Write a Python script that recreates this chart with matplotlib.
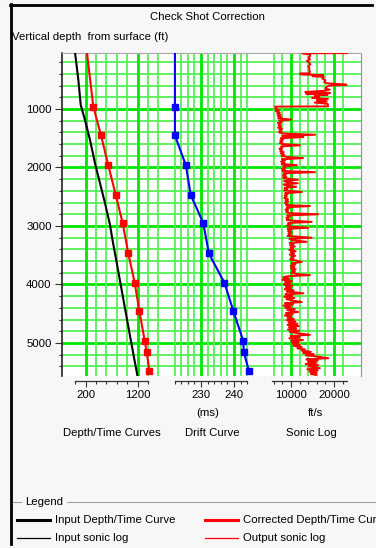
import numpy as np
import matplotlib.pyplot as plt
from matplotlib.lines import Line2D
from matplotlib.patches import Rectangle
from matplotlib.ticker import FixedLocator, MultipleLocator, NullFormatter

plt.rcParams['font.family'] = ['Liberation Sans', 'DejaVu Sans']
plt.rcParams['font.size'] = 8.2

W, H = 376, 548
def fx(px):
    return px / W
def fy(py):
    return 1 - py / H

# check shot depths (ft) and the corrected depth/time + drift at each shot
shot_depth = [960, 1450, 1960, 2470, 2950, 3470, 3970, 4450, 4960, 5160, 5470]
corrected_time = [350, 498, 638, 781, 915, 1023, 1146, 1235, 1338, 1377, 1427]
drift_ms = [222.1, 222.1, 225.4, 226.9, 230.7, 232.4, 237.1, 239.8, 242.8, 243.0, 244.5]
top_depth = 45
top_corrected = 229
top_drift = 222.1

# input depth/time curve
input_depth = [45, 500, 930, 1190, 1530, 1930, 2270, 2610, 2980, 3240, 3700, 4270, 4900, 5550]
input_time = [0, 62, 108, 190, 287, 383, 479, 575, 671, 719, 815, 931, 1060, 1196]

# sonic log (ft/s)
sonic_depth = [45, 47, 60, 90, 120, 150, 180, 210, 240, 270, 300, 330, 360, 390, 392, 410, 420, 440,
               450, 480, 510, 540, 560, 575, 585, 600, 620, 650, 670, 690, 710, 725, 740, 755, 770,
               790, 810, 830, 850, 870, 890, 910, 930, 955, 960,
               980, 1000, 1020, 1040, 1060, 1080, 1100, 1120, 1140, 1160, 1180, 1200, 1220, 1240,
               1260, 1280, 1300, 1320, 1340, 1360, 1380, 1400, 1420, 1440, 1460, 1480, 1500, 1520,
               1540, 1560, 1580, 1600, 1620, 1640, 1660, 1680, 1700, 1720, 1740, 1760, 1780, 1800,
               1820, 1840, 1860, 1880, 1900, 1920, 1940, 1960, 1980, 2000, 2020, 2040, 2060, 2080,
               2100, 2120, 2140, 2160, 2180, 2210, 2230, 2250, 2270, 2290, 2310, 2330, 2350, 2370,
               2390, 2420, 2440, 2460, 2480, 2500, 2520, 2540, 2560, 2580, 2600, 2620, 2640, 2660,
               2680, 2700, 2720, 2740, 2760, 2780, 2800, 2820, 2840, 2860, 2880, 2900, 2930, 2950,
               2970, 2990, 3010, 3030, 3050, 3070, 3090, 3110, 3130, 3150, 3170, 3200, 3220, 3240,
               3270, 3290, 3310, 3330, 3350, 3370, 3390, 3410, 3430, 3450, 3470, 3490, 3510, 3530,
               3550, 3570, 3590, 3615, 3640, 3660, 3680, 3700, 3720, 3740, 3760, 3780, 3800, 3820,
               3840, 3860, 3880, 3900, 3920, 3940, 3960, 3980, 4000, 4020, 4040, 4060, 4080, 4100,
               4120, 4150, 4170, 4190, 4210, 4230, 4250, 4270, 4300, 4320, 4340, 4360, 4380, 4400,
               4420, 4440, 4470, 4490, 4510, 4530, 4550, 4570, 4590, 4610, 4630, 4650, 4670, 4690,
               4710, 4730, 4750, 4770, 4790, 4810, 4830, 4860, 4880, 4900, 4920, 4950, 4970, 4990,
               5010, 5030, 5050, 5070, 5090, 5110, 5130, 5150, 5170, 5190, 5210, 5230, 5260, 5280,
               5300, 5320, 5340, 5360, 5380, 5400, 5430, 5450, 5470, 5490, 5510, 5530, 5545]
sonic_vel = [23000, 12600, 14300, 14500, 14100, 14400, 13700, 14300, 14500, 14000, 14300, 14200, 14400,
             14300, 12100, 12300, 17500, 15000, 17600, 17300, 18000, 17700, 18400, 21400, 22900,
             19000, 18300, 18000, 19000, 17500, 13300, 19100, 13500, 18500, 15500, 16500, 14900,
             18600, 16000, 18300, 15500, 18500, 18600, 18600, 6300,
             6600, 6300, 7200, 6500, 7400, 6800, 7600, 6900, 7800, 7000, 10100, 7300, 7900, 6900,
             7600, 7100, 7700, 7000, 7900, 7300, 7800, 7200, 8400, 15600, 8000, 12900, 7600, 8200,
             7500, 8000, 7400, 8100, 12100, 7700, 8000, 7300, 7900, 7500, 8300, 7600, 8400, 7800,
             9000, 12800, 7900, 8600, 7700, 8500, 7800, 11300, 8200, 8700, 7900, 8600, 8000, 15600,
             8300, 8800, 8100, 8900, 8200, 11600, 8400, 9000, 11600, 8300, 8900, 11200, 8500, 9100,
             8400, 12500, 8600, 9200, 8500, 9000, 8400, 9300, 8700, 9400, 8600, 9200, 8800, 14400,
             9000, 9500, 8700, 9300, 8900, 9600, 16300, 9100, 9700, 8900, 9500, 9000, 14800, 9300,
             9800, 9100, 9600, 14000, 9200, 9900, 9300, 10100, 9400, 9900, 9200, 14800, 9600, 10300,
             13600, 9700, 10600, 9800, 10900, 9900, 10500, 9600, 11100, 10000, 10700, 9700, 11000, 10100,
             10600, 9800, 11200, 12500, 10200, 11000, 9900, 10800, 10000, 11100, 10300, 10900, 10100, 11300,
             14400, 9000, 8200, 9600, 8000, 10200, 8600, 9800, 8300, 10400, 8800, 9900, 8500, 10600,
             9000, 12900, 8700, 10300, 8400, 10800, 8900, 10100, 12500, 8600, 10500, 8200, 9800, 8700,
             10900, 9100, 11700, 8800, 10400, 8500, 10000, 9200, 10700, 9000, 11000, 9400, 11500, 9200,
             11800, 9500, 11200, 9300, 11900, 9700, 11400, 14400, 9900, 12000, 9600, 12800, 10100, 11700,
             10300, 12100, 10600, 12500, 11500, 13200, 12500, 14600, 12800, 15300, 13400, 16000, 18700, 13600,
             16200, 14000, 15800, 13400, 16300, 14100, 16700, 13800, 16200, 14300, 15900, 14600, 15800]

# per-track ticks and grid values
dt_ticks = [0, 200, 400, 600, 800, 1000, 1200, 1400]
dt_labels = [200, 1200]
dt_grid = [200, 400, 600, 800, 1000, 1200, 1400, 1600]
drift_ticks = [222, 224, 226, 228, 230, 232, 234, 236, 238, 240, 242, 244]
drift_labels = [230, 240]
sonic_ticks = [6000, 8000, 10000, 12000, 14000, 16000, 18000, 20000, 22000]
sonic_labels = [10000, 20000]
depth_minor = list(range(200, 5600, 200))
depth_major = [1000, 2000, 3000, 4000, 5000]

fig = plt.figure(figsize=(W / 100, H / 100), dpi=100, facecolor='#f0f0f0')

# window frame
fig.add_artist(Rectangle((0, 0), fx(10), 1, transform=fig.transFigure, color='#e3e3e3', zorder=0))
fig.add_artist(Rectangle((0, fy(4)), 1, 1 - fy(4), transform=fig.transFigure, color='#f6f6f6', zorder=0))
fig.add_artist(Rectangle((0, 0), 1, 1 - fy(544), transform=fig.transFigure, color='#f7f7f7', zorder=0))
fig.add_artist(Line2D([fx(11), fx(11)], [fy(4), fy(544)], color='black', lw=2, transform=fig.transFigure))
fig.add_artist(Line2D([fx(10), fx(372)], [fy(5), fy(5)], color='black', lw=2, transform=fig.transFigure))

tracks = [(62, 167, (-252, 1767)), (167, 262, (219.7, 248.5)), (262, 361, (3256, 26279))]
ax_list = []
for l, r, xl in tracks:
    ax = fig.add_axes([fx(l), fy(376), (r - l) / W, (376 - 53) / H])
    ax.set_xlim(*xl)
    ax.set_ylim(5564, 43)
    ax.set_facecolor('white')
    for y in depth_minor:
        if y in depth_major:
            ax.axhline(y, color='#00e600', lw=2.0, zorder=1)
        else:
            ax.axhline(y, color='#55f055', lw=1.3, zorder=1)
    for s in ['left', 'right', 'bottom', 'top']:
        ax.spines[s].set_visible(False)
    ax.spines['top'].set_visible(True)
    ax.spines['top'].set_color('#a8a8a8')
    ax.spines['bottom'].set_visible(True)
    ax.spines['bottom'].set_position(('outward', 3.6))
    ax.spines['bottom'].set_color('#333333')
    ax.spines['bottom'].set_linewidth(0.9)
    ax.tick_params(axis='x', which='major', length=4.3, width=0.8, color='#333333', pad=2.5, labelsize=8.2)
    ax.tick_params(axis='x', which='minor', length=2, width=0.8, color='#333333')
    ax.tick_params(axis='y', left=False, labelleft=False)
    ax_list.append(ax)

ax1, ax2, ax3 = ax_list

def set_x_axis(ax, ticks, labels, grid, lo, hi):
    ax.spines['bottom'].set_bounds(lo, hi)
    ax.xaxis.set_major_locator(FixedLocator(labels))
    ax.xaxis.set_minor_locator(FixedLocator([t for t in ticks if t not in labels]))
    ax.xaxis.set_minor_formatter(NullFormatter())
    ax.set_xticklabels([str(v) for v in labels])
    for g in grid:
        if g in labels:
            ax.axvline(g, color='#00e600', lw=2.0, zorder=1)
        else:
            ax.axvline(g, color='#55f055', lw=1.3, zorder=1)

set_x_axis(ax1, dt_ticks, dt_labels, dt_grid, 0, 1400)
set_x_axis(ax2, drift_ticks, drift_labels, drift_ticks, 222, 244)
set_x_axis(ax3, sonic_ticks, sonic_labels, sonic_ticks, 5600, 23000)

# depth axis on the first track
ax1.spines['left'].set_visible(True)
ax1.spines['left'].set_color('#222222')
ax1.spines['left'].set_linewidth(1.2)
ax1.yaxis.set_major_locator(FixedLocator(depth_major))
ax1.yaxis.set_minor_locator(FixedLocator([d for d in depth_minor if d not in depth_major]))
ax1.tick_params(axis='y', which='major', left=True, labelleft=True, length=5, width=0.8,
                color='#333333', pad=2.5, labelsize=8.2)
ax1.tick_params(axis='y', which='minor', left=True, length=2.5, width=0.8, color='#333333')
ax3.spines['right'].set_visible(True)
ax3.spines['right'].set_color('#909090')

# curves
ax1.plot(input_time, input_depth, color='black', lw=1.5, zorder=3)
ax1.plot([top_corrected] + corrected_time, [top_depth] + shot_depth, color='red', lw=1.5, zorder=3)
ax1.plot(corrected_time, shot_depth, ls='none', marker='s', ms=5, color='red', zorder=4, clip_on=False)
ax2.plot([top_drift] + drift_ms, [top_depth] + shot_depth, color='blue', lw=1.5, zorder=3)
ax2.plot(drift_ms, shot_depth, ls='none', marker='s', ms=5, color='blue', zorder=4, clip_on=False)
ax3.plot(sonic_vel, sonic_depth, color='red', lw=1.4, zorder=3)

# titles and labels
fig.text(fx(207), fy(17), 'Check Shot Correction', ha='center', va='center')
fig.text(fx(12), fy(37), 'Vertical depth  from surface (ft)', ha='left', va='center')
fig.text(fx(208), fy(413), '(ms)', ha='center', va='center')
fig.text(fx(315), fy(413), 'ft/s', ha='center', va='center')
fig.text(fx(112), fy(433), 'Depth/Time Curves', ha='center', va='center')
fig.text(fx(212), fy(433), 'Drift Curve', ha='center', va='center')
fig.text(fx(311), fy(433), 'Sonic Log', ha='center', va='center')

# legend box
fig.add_artist(Line2D([fx(13), fx(21)], [fy(502), fy(502)], color='#a0a0a0', lw=0.8, transform=fig.transFigure))
fig.add_artist(Line2D([fx(67), fx(376)], [fy(502), fy(502)], color='#a0a0a0', lw=0.8, transform=fig.transFigure))
fig.text(fx(25), fy(502), 'Legend', ha='left', va='center')
legend_rows = [('black', 2.2, 17, 520, 'Input Depth/Time Curve'),
               ('black', 0.9, 17, 538, 'Input sonic log'),
               ('red', 2.2, 205, 520, 'Corrected Depth/Time Curve'),
               ('red', 0.9, 205, 538, 'Output sonic log')]
for c, lw, x0, y0, txt in legend_rows:
    fig.add_artist(Line2D([fx(x0), fx(x0 + 33)], [fy(y0), fy(y0)], color=c, lw=lw, transform=fig.transFigure))
    fig.text(fx(x0 + 38), fy(y0), txt, ha='left', va='center')

fig.savefig('out.png', dpi=100, facecolor=fig.get_facecolor())
